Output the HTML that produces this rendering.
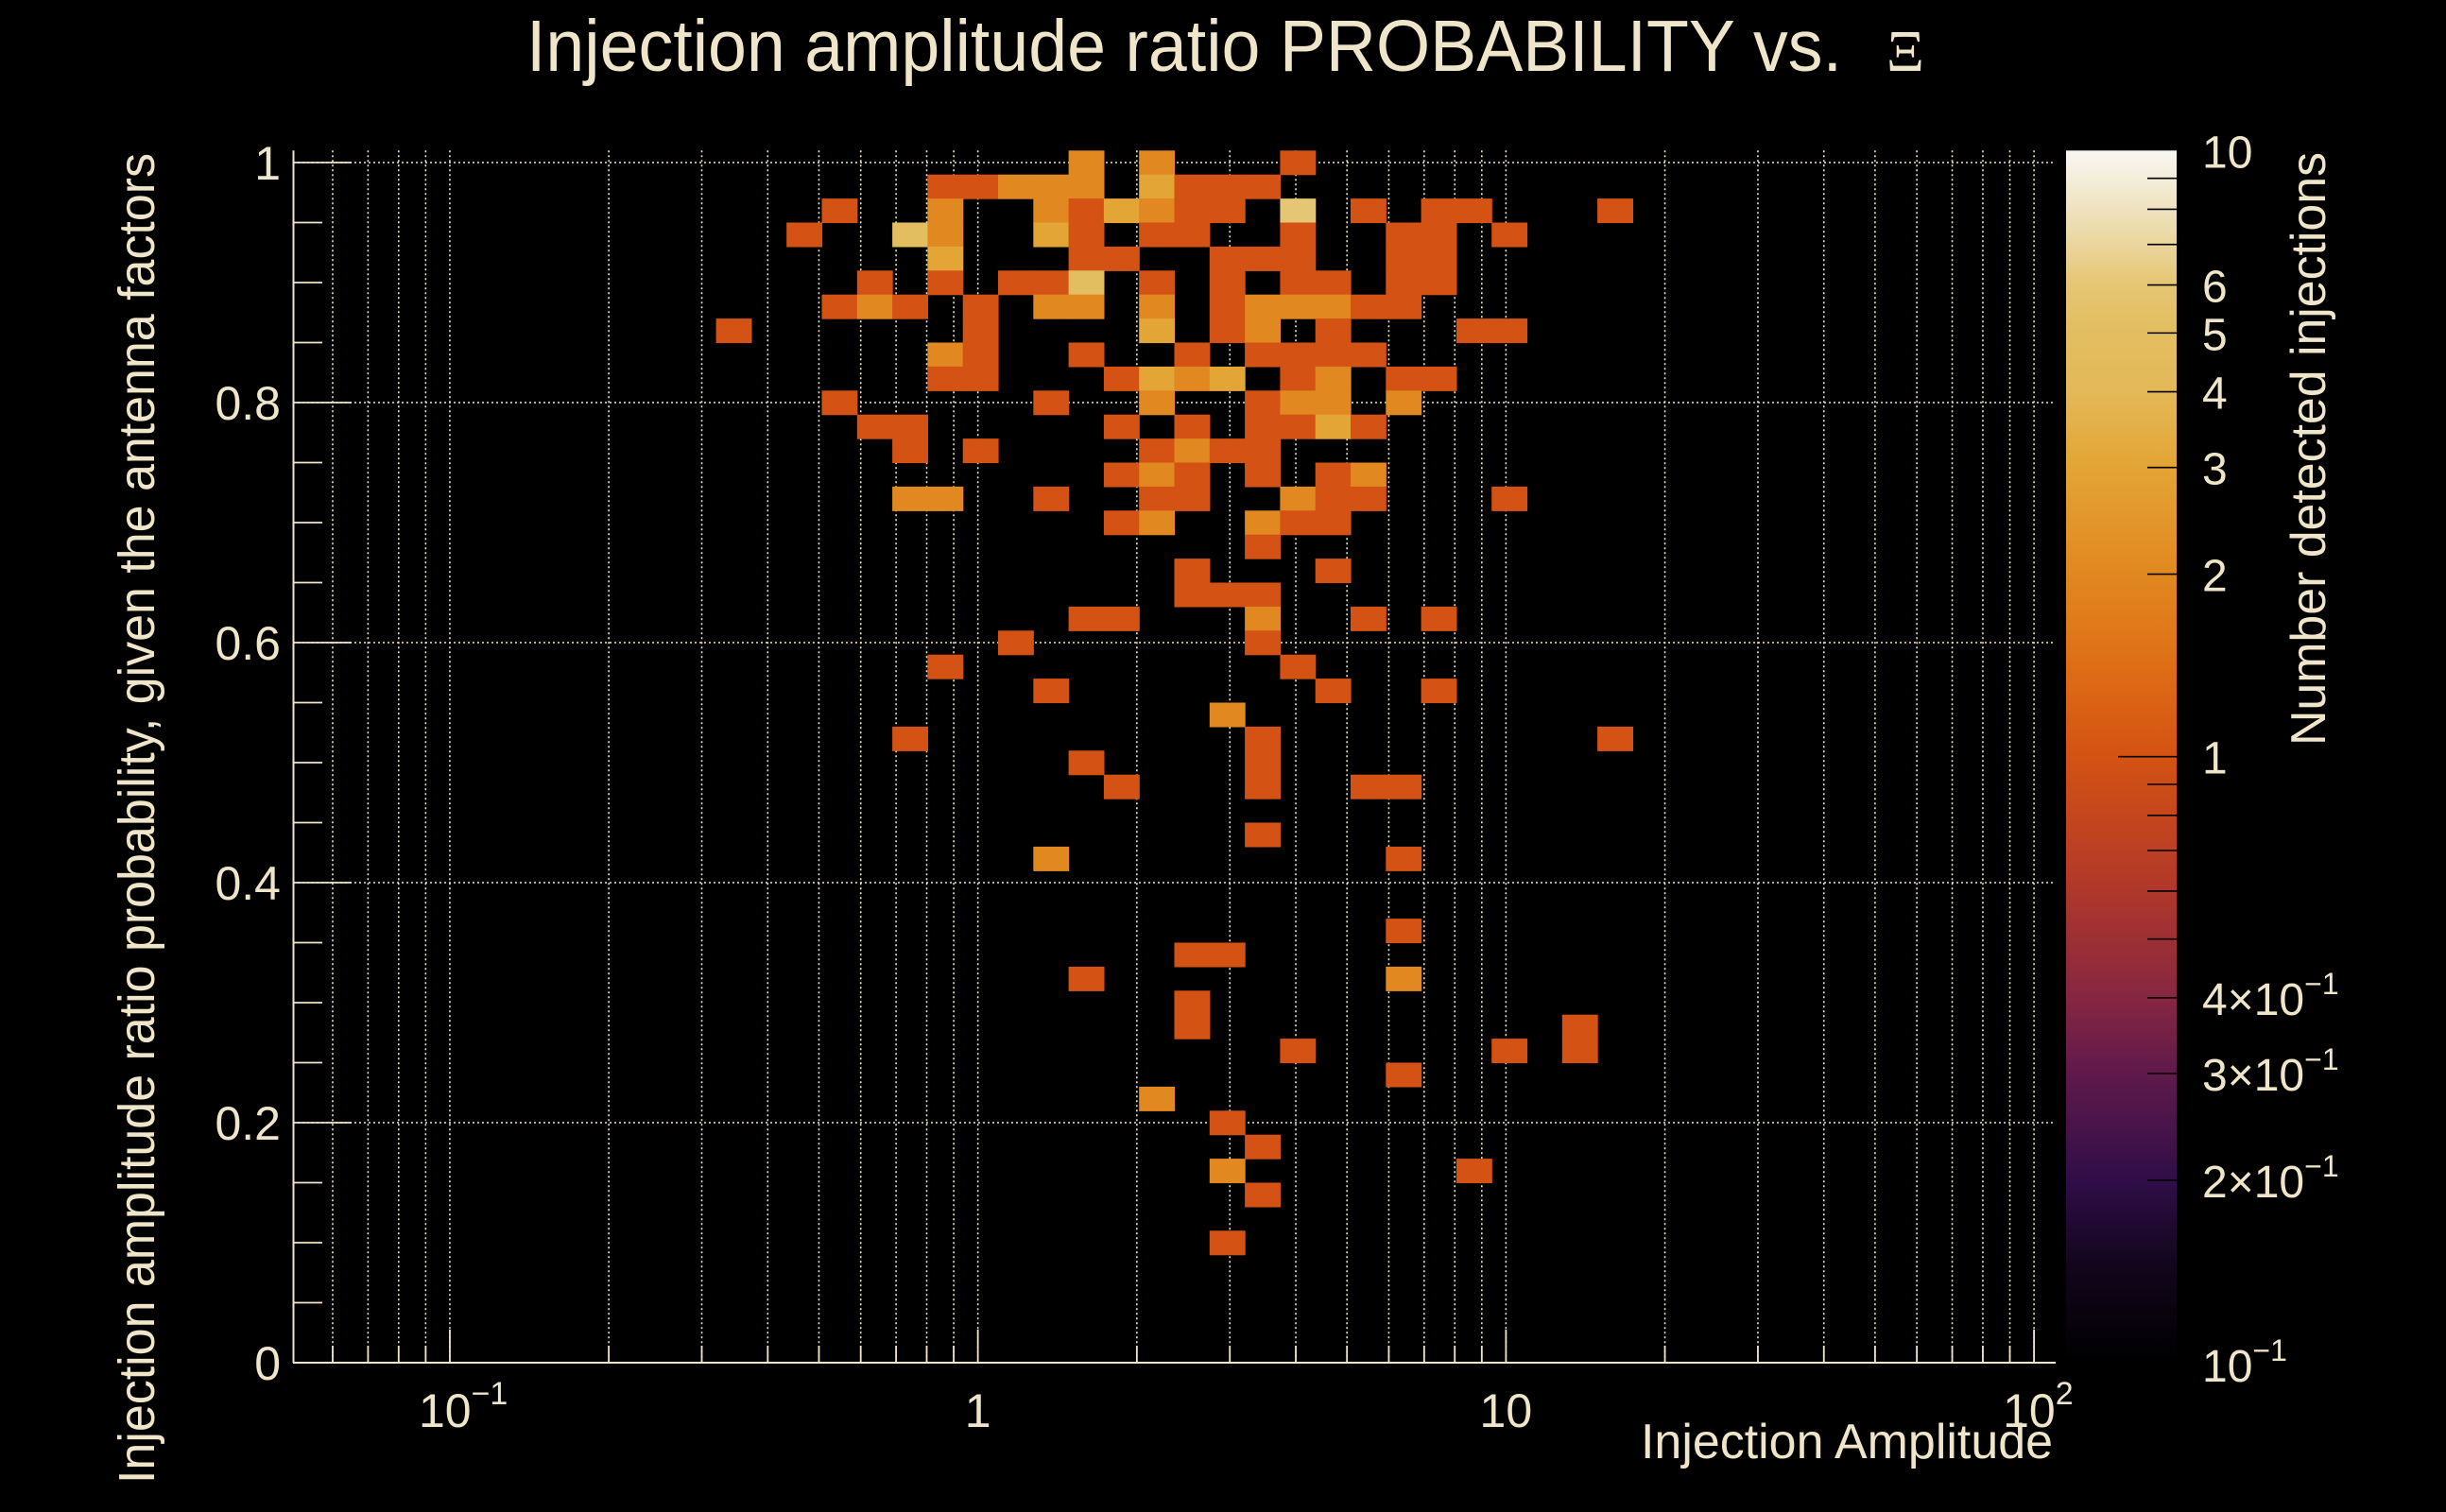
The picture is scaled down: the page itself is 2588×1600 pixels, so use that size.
<!DOCTYPE html>
<html>
<head>
<meta charset="utf-8">
<style>
  html, body { margin: 0; padding: 0; background: #000; }
  svg { display: block; }
  text { font-family: "Liberation Sans", "DejaVu Sans", sans-serif; fill: #efe5c8; }
</style>
</head>
<body>
<svg id="chart" xmlns="http://www.w3.org/2000/svg" width="2588" height="1600" viewBox="0 0 2588 1600">
  <defs>
    <linearGradient id="cbGrad" x1="0" y1="1" x2="0" y2="0"></linearGradient>
    <clipPath id="plotClip"><rect x="310" y="159" width="1865" height="1284"></rect></clipPath>
  </defs>
  <rect x="0" y="0" width="2588" height="1600" fill="#000"></rect>
  <g id="grid"></g>
  <g id="cells" clip-path="url(#plotClip)"></g>
  <g id="axes"></g>
  <g id="colorbar"></g>
  <text x="557" y="75" font-size="77" textLength="1392" lengthAdjust="spacingAndGlyphs">Injection amplitude ratio PROBABILITY vs.</text>
  <text x="1996" y="75" font-size="62" font-family="Liberation Serif, serif" style="font-family:'Liberation Serif',serif">Ξ</text>
  <text x="2172" y="1543" font-size="52" text-anchor="end" textLength="436" lengthAdjust="spacingAndGlyphs">Injection Amplitude</text>
  <text transform="translate(163,162) rotate(-90)" font-size="54" text-anchor="end" textLength="1408" lengthAdjust="spacingAndGlyphs">Injection amplitude ratio probability, given the antenna factors</text>
  <text transform="translate(2460,161) rotate(-90)" font-size="52" text-anchor="end" textLength="628" lengthAdjust="spacingAndGlyphs">Number detected injections</text>
</svg>
<script>
// ---- data (bin centres) ----
const cellProb = [
1.00,1.00,1.00,
0.98,0.98,0.98,0.98,0.98,0.98,0.98,0.98,0.98,
0.96,0.96,0.96,0.96,0.96,0.96,0.96,0.96,0.96,0.96,0.96,0.96,0.96,
0.94,0.94,0.94,0.94,0.94,0.94,0.94,0.94,0.94,0.94,0.94,
0.92,0.92,0.92,0.92,0.92,0.92,0.92,0.92,
0.90,0.90,0.90,0.90,0.90,0.90,0.90,0.90,0.90,0.90,0.90,
0.88,0.88,0.88,0.88,0.88,0.88,0.88,0.88,0.88,0.88,0.88,0.88,0.88,
0.86,0.86,0.86,0.86,0.86,0.86,0.86,0.86,
0.84,0.84,0.84,0.84,0.84,0.84,0.84,0.84,
0.82,0.82,0.82,0.82,0.82,0.82,0.82,0.82,0.82,0.82,
0.80,0.80,0.80,0.80,0.80,0.80,0.80,
0.78,0.78,0.78,0.78,0.78,0.78,0.78,0.78,
0.76,0.76,0.76,0.76,0.76,0.76,
0.74,0.74,0.74,0.74,0.74,0.74,
0.72,0.72,0.72,0.72,0.72,0.72,0.72,0.72,0.72,
0.70,0.70,0.70,0.70,0.70,
0.68,
0.66,0.66,
0.64,0.64,0.64,
0.62,0.62,0.62,0.62,0.62,
0.60,0.60,
0.58,0.58,
0.56,0.56,0.56,
0.54,
0.52,0.52,0.52,
0.50,0.50,
0.48,0.48,0.48,0.48,
0.44,
0.42,0.42,
0.36,
0.34,0.34,
0.32,0.32,
0.30,
0.28,0.28,
0.26,0.26,0.26,
0.24,
0.22,
0.20,
0.18,
0.16,0.16,
0.14,
0.10
];
const cellAmp = [
1.60,2.18,4.03,
0.867,1.01,1.18,1.38,1.60,2.18,2.54,2.97,3.46,
0.547,0.867,1.38,1.60,1.87,2.18,2.54,2.97,4.03,5.49,7.46,8.70,16.1,
0.469,0.744,0.867,1.38,1.60,2.18,2.54,4.03,6.40,7.46,10.2,
0.867,1.60,1.87,2.97,3.46,4.03,6.40,7.46,
0.638,0.867,1.18,1.38,1.60,2.18,2.97,4.03,4.70,6.40,7.46,
0.547,0.638,0.744,1.01,1.38,1.60,2.18,2.97,3.46,4.03,4.70,5.49,6.40,
0.345,1.01,2.18,2.97,3.46,4.70,8.70,10.2,
0.867,1.01,1.60,2.54,3.46,4.03,4.70,5.49,
0.867,1.01,1.87,2.18,2.54,2.97,4.03,4.70,6.40,7.46,
0.547,1.38,2.18,3.46,4.03,4.70,6.40,
0.638,0.744,1.87,2.54,3.46,4.03,4.70,5.49,
0.744,1.01,2.18,2.54,2.97,3.46,
1.87,2.18,2.54,3.46,4.70,5.49,
0.744,0.867,1.38,2.18,2.54,4.03,4.70,5.49,10.2,
1.87,2.18,3.46,4.03,4.70,
3.46,
2.54,4.70,
2.54,2.97,3.46,
1.60,1.87,3.46,5.49,7.46,
1.18,3.46,
0.867,4.03,
1.38,4.70,7.46,
2.97,
0.744,3.46,16.1,
1.60,3.46,
1.87,3.46,5.49,6.40,
3.46,
1.38,6.40,
6.40,
2.54,2.97,
1.60,6.40,
2.54,
2.54,13.8,
4.03,10.2,13.8,
6.40,
2.18,
2.97,
3.46,
2.97,8.70,
3.46,
2.97
];
const cellCount = [
2,2,1,
1,1,2,2,2,3,1,1,1,
1,2,2,1,3,2,1,1,6,1,1,1,1,
1,5,2,3,1,1,1,1,1,1,1,
3,1,1,1,1,1,1,1,
1,1,1,1,5,1,1,1,1,1,1,
1,2,1,1,2,2,2,1,2,2,2,1,1,
1,1,3,1,2,1,1,1,
2,1,1,1,1,1,1,1,
1,1,1,3,2,3,1,2,1,1,
1,1,2,1,2,2,2,
1,1,1,1,1,1,3,1,
1,1,1,2,1,1,
1,2,1,1,1,2,
2,2,1,1,1,2,1,1,1,
1,2,2,1,1,
1,
1,1,
1,1,1,
1,1,2,1,1,
1,1,
1,1,
1,1,1,
2,
1,1,1,
1,1,
1,1,1,1,
1,
2,1,
1,
1,1,
1,2,
1,
1,1,
1,1,1,
1,
2,
1,
1,
2,1,
1,
1
];
const yTickValues = [0, 0.2, 0.4, 0.6, 0.8, 1];
const yTickLabels = ["0", "0.2", "0.4", "0.6", "0.8", "1"];
const xDecades = [0.1, 1, 10, 100];
const xDecadeBase = ["10", "1", "10", "10"];
const xDecadeExp = ["\u22121", "", "", "2"];
const zTickValues = [10, 6, 5, 4, 3, 2, 1, 0.4, 0.3, 0.2, 0.1];
const zTickLabels = ["10", "6", "5", "4", "3", "2", "1", "4\u00d710", "3\u00d710", "2\u00d710", "10"];
const zTickExp = ["", "", "", "", "", "", "", "\u22121", "\u22121", "\u22121", "\u22121"];

// ---- axes ----
const NS = "http://www.w3.org/2000/svg";
const X_LOG_MIN = -1.297, X_LOG_MAX = 2.041, NXBINS = 50;
const X_PX_MIN = 310, X_PX_MAX = 2175;
const Y_MIN = 0, Y_MAX = 1.01, Y_PX_BOT = 1442, Y_PX_TOP = 159.3;
const Y_BIN = 0.02;
const Z_LOG_MIN = -1, Z_LOG_MAX = 1;
const CB_X = 2186, CB_W = 117, CB_TOP = 159.3, CB_BOT = 1442;

function xScale(v) { return X_PX_MIN + (Math.log10(v) - X_LOG_MIN) / (X_LOG_MAX - X_LOG_MIN) * (X_PX_MAX - X_PX_MIN); }
function yScale(v) { return Y_PX_BOT - (v - Y_MIN) / (Y_MAX - Y_MIN) * (Y_PX_BOT - Y_PX_TOP); }
function zScale(v) { return CB_BOT - (Math.log10(v) - Z_LOG_MIN) / (Z_LOG_MAX - Z_LOG_MIN) * (CB_BOT - CB_TOP); }

const stops = [
  [0.00, [0, 0, 0]],
  [0.08, [18, 6, 28]],
  [0.15, [48, 14, 72]],
  [0.24, [96, 26, 74]],
  [0.30, [134, 38, 66]],
  [0.40, [180, 58, 40]],
  [0.50, [212, 82, 19]],
  [0.575, [222, 110, 22]],
  [0.65, [225, 136, 32]],
  [0.74, [227, 165, 53]],
  [0.80, [227, 184, 88]],
  [0.85, [227, 190, 96]],
  [0.89, [229, 198, 116]],
  [0.95, [238, 226, 190]],
  [1.00, [248, 247, 242]]
];
function colorAt(t) {
  t = Math.max(0, Math.min(1, t));
  for (let i = 1; i < stops.length; i++) {
    if (t <= stops[i][0]) {
      const a = stops[i - 1], b = stops[i];
      const f = (t - a[0]) / (b[0] - a[0]);
      const c = a[1].map((v, k) => Math.round(v + (b[1][k] - v) * f));
      return "rgb(" + c.join(",") + ")";
    }
  }
  return "rgb(248,247,242)";
}
function zColor(v) { return colorAt((Math.log10(v) - Z_LOG_MIN) / (Z_LOG_MAX - Z_LOG_MIN)); }

function mk(tag, attrs, parent) {
  const el = document.createElementNS(NS, tag);
  for (const k in attrs) el.setAttribute(k, attrs[k]);
  parent.appendChild(el);
  return el;
}

const gGrid = document.getElementById("grid");
const gCells = document.getElementById("cells");
const gAxes = document.getElementById("axes");
const gCb = document.getElementById("colorbar");
const cream = "#efe5c8";

// vertical grid lines (log)
for (let d = -2; d <= 2; d++) {
  for (let m = 1; m <= 9; m++) {
    const v = m * Math.pow(10, d);
    const lv = Math.log10(v);
    if (lv < X_LOG_MIN || lv > X_LOG_MAX) continue;
    const x = xScale(v);
    const gl = mk("line", { x1: x, x2: x, y1: Y_PX_TOP, y2: Y_PX_BOT, stroke: cream, "stroke-width": 1.6, "stroke-dasharray": "2 3" }, gGrid);
    
    
    const tk = mk("line", { x1: x, x2: x, y1: Y_PX_BOT, y2: Y_PX_BOT - (m === 1 ? 35 : 18), stroke: cream, "stroke-width": 1.8 }, gAxes);
    
    
  }
}
// horizontal grid lines
yTickValues.forEach(function (v) {
  const y = yScale(v);
  if (v > 0) {
    const gl = mk("line", { x1: X_PX_MIN, x2: X_PX_MAX, y1: y, y2: y, stroke: cream, "stroke-width": 1.6, "stroke-dasharray": "2 3" }, gGrid);
    
    
  }
});

// heatmap cells
const binW = (X_LOG_MAX - X_LOG_MIN) / NXBINS;
for (let i = 0; i < cellCount.length; i++) {
  const col = Math.floor((Math.log10(cellAmp[i]) - X_LOG_MIN) / binW);
  const row = Math.round(cellProb[i] / Y_BIN);
  const xl = xScale(Math.pow(10, X_LOG_MIN + col * binW));
  const xr = xScale(Math.pow(10, X_LOG_MIN + (col + 1) * binW));
  const yc = row * Y_BIN;
  const yt = yScale(Math.min(Y_MAX, yc + Y_BIN / 2));
  const yb = yScale(Math.max(Y_MIN, yc - Y_BIN / 2));
  const r = mk("rect", { x: xl.toFixed(2), y: yt.toFixed(2), width: (xr - xl + 0.6).toFixed(2), height: (yb - yt + 0.6).toFixed(2), fill: zColor(cellCount[i]) }, gCells);
  
  
}

// axis lines
const xAxis = mk("line", { x1: X_PX_MIN, x2: X_PX_MAX, y1: Y_PX_BOT, y2: Y_PX_BOT, stroke: cream, "stroke-width": 2 }, gAxes);


const yAxis = mk("line", { x1: X_PX_MIN + 0.5, x2: X_PX_MIN + 0.5, y1: Y_PX_TOP, y2: Y_PX_BOT, stroke: cream, "stroke-width": 2 }, gAxes);



// y ticks (major every 0.2, minor every 0.05)
for (let k = 0; k <= 20; k++) {
  const v = k * 0.05;
  const y = yScale(v);
  const major = (k % 4 === 0);
  const t = mk("line", { x1: X_PX_MIN, x2: X_PX_MIN + (major ? 62 : 31), y1: y, y2: y, stroke: cream, "stroke-width": 1.8 }, gAxes);
  
  
}
yTickValues.forEach(function (v, i) {
  const t = mk("text", { x: 297, y: yScale(v) + 18, "font-size": 50, "text-anchor": "end" }, gAxes);
  t.textContent = yTickLabels[i];
  
  
});

// x tick labels (decades)
xDecades.forEach(function (v, i) {
  const x = xScale(v);
  const t = mk("text", { y: 1510, "font-size": 50 }, gAxes);
  
  
  if (xDecadeExp[i]) {
    const base = document.createElementNS(NS, "tspan");
    base.textContent = xDecadeBase[i];
    const sup = document.createElementNS(NS, "tspan");
    sup.setAttribute("font-size", "34");
    sup.setAttribute("dy", "-24");
    sup.textContent = xDecadeExp[i];
    t.appendChild(base); t.appendChild(sup);
    t.setAttribute("x", x - 33);
  } else {
    t.setAttribute("text-anchor", "middle");
    t.setAttribute("x", x);
    t.textContent = xDecadeBase[i];
  }
});

// colour bar
const grad = document.getElementById("cbGrad");
stops.forEach(function (s) {
  const st = mk("stop", { offset: s[0], "stop-color": "rgb(" + s[1].join(",") + ")" }, grad);
});
const cb = mk("rect", { x: CB_X, y: CB_TOP, width: CB_W, height: CB_BOT - CB_TOP, fill: "url(#cbGrad)" }, gCb);


for (let d = -1; d <= 0; d++) {
  for (let m = 1; m <= 9; m++) {
    const v = m * Math.pow(10, d);
    if (v <= 0.1) continue;
    const y = zScale(v);
    const t = mk("line", { x1: CB_X + CB_W - (m === 1 ? 62 : 31), x2: CB_X + CB_W, y1: y, y2: y, stroke: "#000", "stroke-width": 1.6 }, gCb);
    
    
  }
}
zTickValues.forEach(function (v, i) {
  let y = zScale(v) + 18;
  if (v === 0.1) y = CB_BOT + 20;
  if (v === 10) y = CB_TOP + 18;
  const t = mk("text", { x: 2330, y: y, "font-size": 48 }, gCb);
  
  
  const base = document.createElementNS(NS, "tspan");
  base.textContent = zTickLabels[i];
  t.appendChild(base);
  if (zTickExp[i]) {
    const sup = document.createElementNS(NS, "tspan");
    sup.setAttribute("font-size", "32");
    sup.setAttribute("dy", "-22");
    sup.textContent = zTickExp[i];
    t.appendChild(sup);
  }
});
</script>
</body>
</html>
